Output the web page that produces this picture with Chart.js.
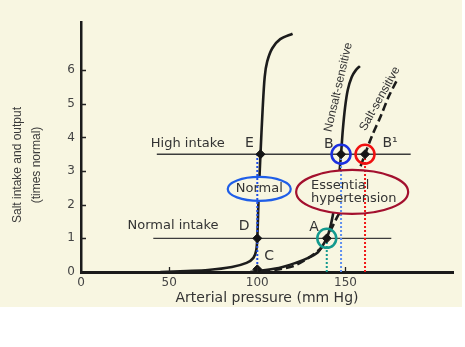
<!DOCTYPE html>
<html>
<head>
<meta charset="utf-8">
<title>Salt intake and output</title>
<script src="https://cdn.jsdelivr.net/npm/chart.js@4.4.0/dist/chart.umd.min.js"></script>
<style>
  body { margin: 0; background: #fff; }
  #wrap { width: 465px; height: 347px; }
</style>
</head>
<body>
<div id="wrap"><canvas id="saltChart" width="465" height="347"></canvas></div>
<script>
// renal output curves: [arterial pressure mm Hg, salt output times normal]
const normalCurve = [[45, 0], [60, 0.03], [72, 0.06], [85.6, 0.15], [93.9, 0.27], [97.8, 0.42], [99.4, 0.65],
  [100, 1], [100.7, 2.14], [101.8, 3.5], [103, 4.81], [104.2, 5.8], [105.6, 6.25], [108.5, 6.65], [113, 6.92], [120, 7.08]];
const nonsaltCurve = [[96, 0], [112.2, 0.12], [121.7, 0.27], [128.9, 0.42], [134.4, 0.59], [137.2, 0.8], [139.4, 1],
  [141.7, 1.4], [143.9, 1.99], [145.6, 2.58], [146.7, 3.03], [147.5, 3.5], [148.5, 4.22], [149.8, 4.9], [151.3, 5.41],
  [153.5, 5.79], [155.9, 6.0], [158.2, 6.12]];
const saltCurve = [[102.8, 0.02], [113.3, 0.09], [120.6, 0.18], [127.2, 0.36], [132.8, 0.56], [136.7, 0.74], [139.4, 1],
  [145, 1.6], [152.2, 2.29], [156.7, 2.88], [161.1, 3.5], [165, 4.04], [170, 4.63], [174.4, 5.2], [178.9, 5.67]];

// intake levels and how far their lines run
const highIntake = 3.5;
const normalIntake = 1;
const highIntakeSpan = [43, 187];
const normalIntakeSpan = [41, 176];

// equilibrium points
const pointNames = ['E', 'D', 'C', 'A', 'B', 'B1'];
const pointX = [101.8, 100, 100, 139.4, 147.5, 161.1];
const pointY = [3.5, 1, 0.08, 1, 3.5, 3.5];

// dotted drops to the pressure axis
const dropX = [100, 139.4, 147.5, 161.1];
const dropTop = [3.5, 1, 3.5, 3.5];
const dropColors = ['#1f4fe6', '#139a8e', '#5f8ff0', '#f01818'];

// rings around A, B, B1
const ringX = [139.4, 147.5, 161.1];
const ringY = [1, 3.5, 3.5];
const ringColors = ['#139a8e', '#1a2fe0', '#f01010'];

const xTicks = [0, 50, 100, 150];
const yTicks = [0, 1, 2, 3, 4, 5, 6];

const toXY = pts => pts.map(p => ({ x: p[0], y: p[1] }));

// ovals, centre in data units, radii in px
const ovals = [
  { x: 101.1, y: 2.47, rx: 31.5, ry: 12, color: '#1f5ee8' },
  { x: 153.8, y: 2.38, rx: 56, ry: 22, color: '#a3102e' }
];

const notes = [
  { text: 'High intake', x: 60.6, y: 3.83, size: 13 },
  { text: 'E', x: 95.6, y: 3.83, size: 14 },
  { text: 'Normal intake', x: 52.2, y: 1.37, size: 13 },
  { text: 'D', x: 92.5, y: 1.37, size: 14 },
  { text: 'C', x: 106.7, y: 0.45, size: 14 },
  { text: 'A', x: 132.2, y: 1.34, size: 14 },
  { text: 'B', x: 140.6, y: 3.8, size: 14 },
  { text: 'B¹', x: 171, y: 3.83, size: 14, align: 'left' },
  { text: 'Normal', x: 101.1, y: 2.47, size: 13 },
  { text: 'Essential', x: 130.5, y: 2.58, size: 13, align: 'left' },
  { text: 'hypertension', x: 130.5, y: 2.17, size: 13, align: 'left' },
  { text: 'Nonsalt-sensitive', x: 146, y: 5.49, size: 12, rot: -77, family: 'Liberation Sans' },
  { text: 'Salt-sensitive', x: 169.5, y: 5.15, size: 12, rot: -61, family: 'Liberation Sans' }
];

const paper = {
  id: 'paper',
  beforeDraw(chart) {
    const c = chart.ctx;
    c.save();
    c.fillStyle = '#ffffff';
    c.fillRect(0, 0, chart.width, chart.height);
    c.fillStyle = '#f8f6e1';
    c.fillRect(0, 0, 462, 307);
    c.restore();
  },
  afterDraw(chart) {
    const c = chart.ctx;
    const { x, y } = chart.scales;
    const area = chart.chartArea;
    c.save();
    // short inward tick marks
    c.strokeStyle = '#222';
    c.lineWidth = 1.3;
    c.beginPath();
    yTicks.slice(1).forEach(v => {
      const py = Math.round(y.getPixelForValue(v)) + 0.5;
      c.moveTo(area.left, py);
      c.lineTo(area.left + 5, py);
    });
    xTicks.slice(1).forEach(v => {
      const px = Math.round(x.getPixelForValue(v)) + 0.5;
      c.moveTo(px, area.bottom);
      c.lineTo(px, area.bottom - 5);
    });
    c.stroke();

    // y axis title, two lines
    c.fillStyle = '#3a3a3a';
    c.font = '12px "Liberation Sans"';
    c.textAlign = 'center';
    c.textBaseline = 'middle';
    c.translate(18, 165);
    c.rotate(-Math.PI / 2);
    c.fillText('Salt intake and output', 0, 0);
    c.fillText('(times normal)', 0, 19);
    c.restore();
  },
  beforeDatasetsDraw(chart) {
    chart.$ovalsFilled = false;
  },
  beforeDatasetDraw(chart, args) {
    // ovals blank out the curves but sit under the dotted drops
    if (!chart.data.datasets[args.index].drop || chart.$ovalsFilled) return;
    chart.$ovalsFilled = true;
    const c = chart.ctx;
    const { x, y } = chart.scales;
    c.save();
    c.fillStyle = '#f8f6e1';
    ovals.forEach(o => {
      c.beginPath();
      c.ellipse(x.getPixelForValue(o.x), y.getPixelForValue(o.y), o.rx, o.ry, 0, 0, Math.PI * 2);
      c.fill();
    });
    c.restore();
  },
  afterDatasetsDraw(chart) {
    const c = chart.ctx;
    const { x, y } = chart.scales;
    c.save();
    ovals.forEach(o => {
      c.beginPath();
      c.ellipse(x.getPixelForValue(o.x), y.getPixelForValue(o.y), o.rx, o.ry, 0, 0, Math.PI * 2);
      c.strokeStyle = o.color;
      c.lineWidth = 2.2;
      c.stroke();
    });
    c.fillStyle = '#333';
    c.textBaseline = 'middle';
    notes.forEach(n => {
      c.save();
      c.font = n.size + 'px "' + (n.family || 'DejaVu Sans') + '"';
      c.textAlign = n.align || 'center';
      c.translate(x.getPixelForValue(n.x), y.getPixelForValue(n.y));
      if (n.rot) c.rotate(n.rot * Math.PI / 180);
      c.fillText(n.text, 0, 0);
      c.restore();
    });
    c.restore();
  }
};

const curve = (data, dash) => ({
  data: toXY(data),
  showLine: true,
  borderColor: '#1c1c1c',
  borderWidth: 2.6,
  borderDash: dash || [],
  pointRadius: 0,
  tension: 0.3,
  order: 4
});

const datasets = [
  {
    data: toXY([[highIntakeSpan[0], highIntake], [highIntakeSpan[1], highIntake]]),
    showLine: true, borderColor: '#3c3c3c', borderWidth: 1.3, pointRadius: 0, order: 5
  },
  {
    data: toXY([[normalIntakeSpan[0], normalIntake], [normalIntakeSpan[1], normalIntake]]),
    showLine: true, borderColor: '#3c3c3c', borderWidth: 1.3, pointRadius: 0, order: 5
  },
  curve(normalCurve),
  curve(nonsaltCurve),
  curve(saltCurve, [8, 4])
];

dropX.forEach((v, i) => {
  datasets.push({
    drop: true,
    data: [{ x: v, y: 0 }, { x: v, y: dropTop[i] }],
    showLine: true,
    borderColor: dropColors[i],
    borderWidth: 2,
    borderDash: [2, 2],
    pointRadius: 0,
    order: 3
  });
});

datasets.push({
  data: ringX.map((v, i) => ({ x: v, y: ringY[i] })),
  pointStyle: 'circle',
  pointRadius: 9.5,
  pointBorderWidth: 2.5,
  borderColor: ringColors,
  backgroundColor: 'rgba(0,0,0,0)',
  order: 2
});

datasets.push({
  label: 'points',
  data: pointX.map((v, i) => ({ x: v, y: pointY[i], name: pointNames[i] })),
  pointStyle: 'rectRot',
  pointRadius: 4.5,
  backgroundColor: '#151515',
  borderColor: '#151515',
  order: 1
});

new Chart(document.getElementById('saltChart'), {
  type: 'scatter',
  data: { datasets: datasets },
  options: {
    responsive: false,
    animation: false,
    events: [],
    layout: { padding: { top: 22, right: 4, left: 0, bottom: 0 } },
    plugins: {
      legend: { display: false },
      tooltip: { enabled: false }
    },
    scales: {
      x: {
        type: 'linear',
        min: 0,
        max: 211,
        afterFit: s => { s.height = 75; },
        afterBuildTicks: s => { s.ticks = xTicks.map(v => ({ value: v })); },
        grid: { display: false, drawTicks: false },
        border: { display: true, color: '#1a1a1a', width: 3 },
        ticks: {
          autoSkip: false, maxRotation: 0, padding: 4,
          color: '#444', font: { family: 'DejaVu Sans', size: 12 }
        },
        title: {
          display: true,
          text: 'Arterial pressure (mm Hg)',
          color: '#333',
          font: { family: 'DejaVu Sans', size: 14 },
          padding: { top: 0, bottom: 40 }
        }
      },
      y: {
        type: 'linear',
        min: 0,
        max: 7.43,
        afterFit: s => { s.width = 81; },
        afterBuildTicks: s => { s.ticks = yTicks.map(v => ({ value: v })); },
        grid: { display: false, drawTicks: false },
        border: { display: true, color: '#1a1a1a', width: 2.5 },
        ticks: {
          autoSkip: false, padding: 6,
          color: '#444', font: { family: 'DejaVu Sans', size: 12 }
        }
      }
    }
  },
  plugins: [paper]
});
</script>
</body>
</html>
